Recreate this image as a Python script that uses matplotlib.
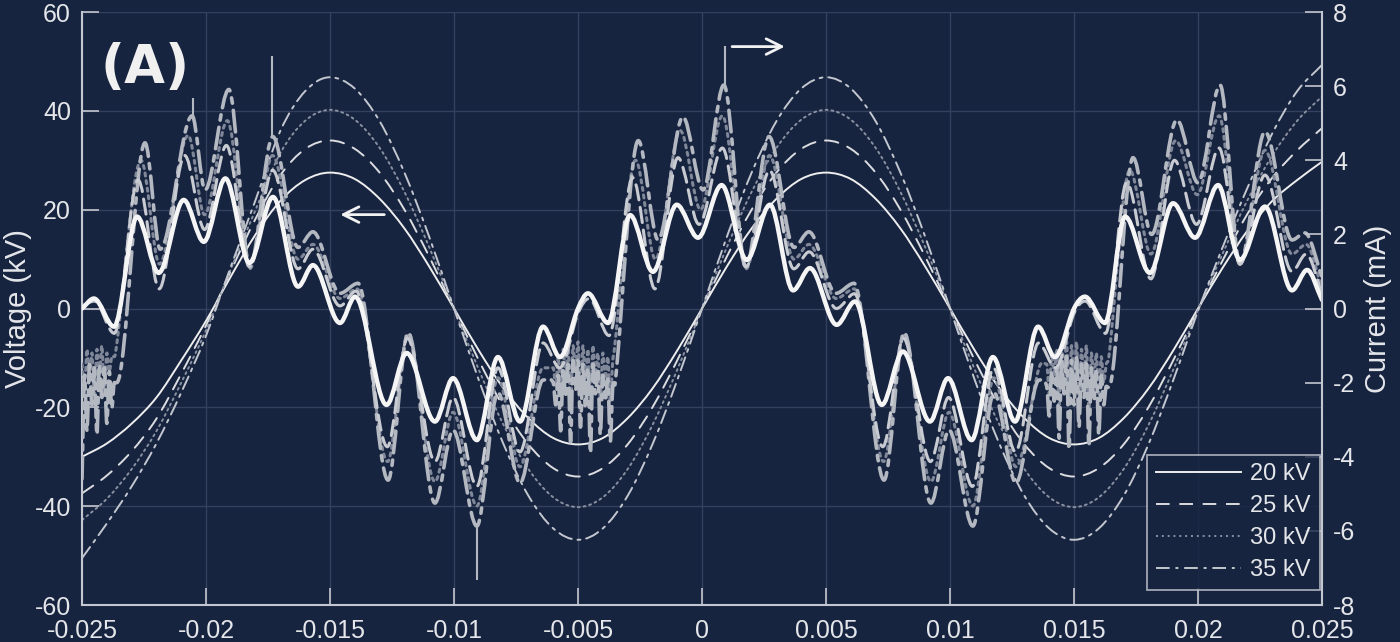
import matplotlib.pyplot as plt
import numpy as np
from matplotlib.path import Path
from matplotlib.patches import PathPatch
from matplotlib.lines import Line2D

# 字体设置
plt.rcParams['font.family'] = ['Liberation Sans', 'DejaVu Sans']

bg = '#172440'      # 背景色
fg = '#e4e6ea'      # 文字颜色
spine_c = '#c3c7cf'
grid_c = '#34405e'

# ---------------- 电压数据 (kV), 每 1 ms 一个点 ----------------
t_v = np.linspace(-0.025, 0.025, 51)
v20 = [-30.0, -27.3, -23.3, -18.0, -10.5, -2.5, 6.5, 15.0, 21.8, 26.0,
       27.5, 26.2, 22.2, 16.2, 8.5, 0.0, -8.5, -16.2, -22.2, -26.2,
       -27.5, -26.2, -22.2, -16.2, -8.5, 0.0, 8.5, 16.2, 22.2, 26.2,
       27.5, 26.2, 22.2, 16.2, 8.5, 0.0, -8.5, -16.2, -22.2, -26.2,
       -27.5, -26.2, -22.2, -16.2, -8.5, 0.0, 8.3, 15.8, 21.8, 26.0, 29.7]
v25 = [-37.4, -33.8, -28.9, -22.3, -13.2, -3.4, 7.6, 18.2, 27.0, 32.3,
       34.0, 32.3, 27.5, 20.0, 10.5, 0.0, -10.5, -20.0, -27.5, -32.3,
       -34.0, -32.3, -27.5, -20.0, -10.5, 0.0, 10.5, 20.0, 27.5, 32.3,
       34.0, 32.3, 27.5, 20.0, 10.5, 0.0, -10.5, -20.0, -27.5, -32.3,
       -34.0, -32.3, -27.5, -20.0, -10.5, -0.2, 9.8, 19.2, 26.5, 32.0, 36.5]
v30 = [-42.8, -38.5, -32.5, -24.8, -15.0, -4.4, 8.0, 20.0, 31.5, 38.0,
       40.2, 38.2, 32.5, 23.6, 12.4, 0.0, -12.4, -23.6, -32.5, -38.2,
       -40.2, -38.2, -32.5, -23.6, -12.4, 0.0, 12.4, 23.6, 32.5, 38.2,
       40.2, 38.2, 32.5, 23.6, 12.4, 0.0, -12.4, -23.6, -32.5, -38.2,
       -40.2, -38.2, -32.5, -23.6, -12.4, -0.3, 11.2, 22.0, 31.0, 38.0, 42.9]
v35 = [-50.5, -43.5, -36.0, -27.3, -17.0, -5.5, 8.5, 22.0, 36.0, 44.0,
       46.8, 44.5, 37.9, 27.5, 14.5, 0.0, -14.5, -27.5, -37.9, -44.5,
       -46.8, -44.5, -37.9, -27.5, -14.5, 0.0, 14.5, 27.5, 37.9, 44.5,
       46.8, 44.5, 37.9, 27.5, 14.5, 0.0, -14.5, -27.5, -37.9, -44.5,
       -46.8, -44.5, -37.9, -27.5, -14.5, -0.5, 12.5, 24.5, 35.5, 44.0, 49.3]

# ---------------- 电流数据 (mA), 读取的极值点 ----------------
# 20 kV
t_i20 = [-0.02500, -0.02452, -0.02371, -0.02278, -0.02191, -0.02090, -0.02009, -0.01922,
         -0.01825, -0.01730, -0.01629, -0.01569, -0.01460, -0.01399, -0.01272, -0.01191,
         -0.01077, -0.01004, -0.00908, -0.00823, -0.00734, -0.00641, -0.00573,
         -0.00500, -0.00460, -0.00379, -0.00290, -0.00198, -0.00102, -0.00016, 0.00079,
         0.00180, 0.00274, 0.00367, 0.00435, 0.00543, 0.00617, 0.00725, 0.00810,
         0.00919, 0.00992, 0.01087, 0.01173, 0.01262, 0.01355, 0.01423,
         0.01500, 0.01544, 0.01625, 0.01706, 0.01806, 0.01899, 0.01988, 0.02081,
         0.02169, 0.02270, 0.02379, 0.02440, 0.02500]
i20 = [0.00, 0.27, -0.49, 2.48, 0.96, 2.93, 1.80, 3.51, 1.23, 3.01, 0.59, 1.17,
       -0.39, 0.32, -2.60, -1.20, -3.05, -1.88, -3.55, -1.31, -3.05, -0.49, -1.31,
       0.00, 0.41, -0.39, 2.52, 0.99, 2.80, 1.91, 3.33, 1.31, 2.80, 0.49, 1.09,
       -0.44, 0.19, -2.60, -1.16, -3.05, -1.88, -3.55, -1.31, -3.05, -0.49, -1.31,
       0.00, 0.32, -0.39, 2.48, 0.96, 2.84, 1.91, 3.33, 1.31, 2.75, 0.49, 1.04, 0.23]

# 25 kV
t_i25 = [-0.02500, -0.02450, -0.02370, -0.02274, -0.02189, -0.02086, -0.02006, -0.01918,
         -0.01824, -0.01731, -0.01629, -0.01569, -0.01460, -0.01395, -0.01269, -0.01188,
         -0.01077, -0.01004, -0.00908, -0.00823, -0.00734, -0.00641, -0.00574,
         -0.00500, -0.00455, -0.00375, -0.00280, -0.00190, -0.00097, -0.00012, 0.00082,
         0.00178, 0.00272, 0.00370, 0.00432, 0.00542, 0.00615, 0.00729, 0.00812,
         0.00921, 0.00994, 0.01090, 0.01175, 0.01264, 0.01357, 0.01425,
         0.01500, 0.01545, 0.01627, 0.01712, 0.01810, 0.01905, 0.01994, 0.02085,
         0.02169, 0.02270, 0.02379, 0.02436, 0.02500]
i25 = [0.07, 0.20, -0.67, 3.47, 0.53, 4.13, 2.13, 4.40, 1.13, 3.73, 1.07, 1.60,
       0.07, 0.47, -3.73, -0.80, -4.13, -2.40, -4.80, -1.60, -3.87, -0.93, -1.60,
       -0.13, 0.27, -0.73, 3.53, 0.53, 4.07, 2.27, 4.33, 1.13, 3.73, 1.07, 1.53,
       0.00, 0.40, -3.73, -0.80, -4.13, -2.40, -4.80, -1.60, -3.87, -0.93, -1.60,
       -0.13, 0.20, -0.67, 3.40, 0.80, 4.00, 2.27, 4.33, 1.20, 3.60, 1.00, 1.47, 0.40]

# 30 kV (含放电噪声段)
b30_0 = [-1.5, -2.2, -1.1, -1.9, -1.2, -2.5, -1.1, -1.8, -1.0, -2.3, -1.2, -1.7, -1.3]
b30_1 = [-1.6, -2.1, -1.3, -2.4, -1.1, -1.8, -1.0, -2.6, -1.0, -1.7, -0.9, -2.3, -1.0,
         -1.9, -1.1, -2.7, -1.0, -1.8, -1.2, -2.4, -1.2, -1.9, -1.3, -2.5, -1.4]
b30_2 = [-1.5, -2.3, -1.2, -1.8, -1.1, -2.6, -1.0, -1.7, -0.9, -2.4, -1.0, -2.0, -0.9,
         -2.5, -1.1, -1.8, -1.0, -2.7, -1.2, -1.9, -1.2, -2.3, -1.3, -2.0, -1.5]
t30_a = [-0.02365, -0.02262, -0.02188, -0.02072, -0.02006, -0.01914, -0.01824, -0.01732,
         -0.01629, -0.01569, -0.01460, -0.01391, -0.01268, -0.01187, -0.01077, -0.01004,
         -0.00908, -0.00823, -0.00734, -0.00641]
i30_a = [-1.20, 4.00, 1.20, 4.67, 2.53, 5.07, 1.07, 4.13, 1.33, 1.73, 0.27, 0.53,
         -4.13, -0.73, -4.67, -2.80, -5.33, -1.87, -4.27, -1.60]
t30_b = [-0.00355, -0.00268, -0.00188, -0.00088, -0.00006, 0.00082, 0.00178, 0.00272,
         0.00371, 0.00431, 0.00541, 0.00614, 0.00732, 0.00813, 0.00923, 0.00996,
         0.01092, 0.01177, 0.01266, 0.01359]
i30_b = [-1.20, 4.00, 1.33, 4.80, 2.67, 5.20, 1.07, 4.13, 1.33, 1.73, 0.27, 0.53,
         -4.13, -0.73, -4.67, -2.80, -5.33, -1.87, -4.27, -1.60]
t30_c = [0.01640, 0.01725, 0.01810, 0.01910, 0.01997, 0.02085, 0.02169, 0.02270,
         0.02379, 0.02436, 0.02500]
i30_c = [-1.33, 3.73, 1.47, 4.53, 3.07, 5.20, 1.20, 4.27, 1.47, 1.73, 0.53]

# 35 kV (含放电噪声段)
b35_0 = [-4.6, -1.8, -3.3, -1.5, -2.6, -1.6, -3.4, -1.5, -2.4, -1.6, -3.1, -1.7, -2.7, -2.0]
b35_1 = [-2.0, -2.6, -1.8, -3.3, -1.6, -2.4, -1.5, -3.6, -1.4, -2.2, -1.4, -3.2, -1.5,
         -2.7, -1.6, -3.9, -1.5, -2.3, -1.7, -3.4, -1.8, -2.5, -1.9, -3.6, -2.1]
b35_2 = [-2.1, -2.9, -1.7, -2.5, -1.6, -3.5, -1.4, -2.3, -1.3, -3.8, -1.4, -2.6, -1.3,
         -3.2, -1.5, -2.4, -1.4, -3.7, -1.6, -2.5, -1.7, -3.4, -1.8, -2.6, -2.1]
t35_a = [-0.02360, -0.02246, -0.02185, -0.02056, -0.02004, -0.01908, -0.01823, -0.01731,
         -0.01629, -0.01569, -0.01460, -0.01387, -0.01266, -0.01185, -0.01077, -0.01004,
         -0.00908, -0.00823, -0.00734, -0.00641]
i35_a = [-2.00, 4.47, 1.60, 5.20, 3.20, 5.91, 1.12, 4.64, 1.65, 2.07, 0.41, 0.68,
         -4.63, -0.65, -5.25, -3.28, -5.87, -2.27, -4.71, -1.93]
t35_b = [-0.00350, -0.00257, -0.00177, -0.00077, 0.00004, 0.00088, 0.00177, 0.00270,
         0.00371, 0.00431, 0.00540, 0.00613, 0.00734, 0.00815, 0.00923, 0.00996,
         0.01092, 0.01177, 0.01266, 0.01359]
i35_b = [-2.00, 4.53, 1.85, 5.17, 3.20, 6.03, 1.12, 4.64, 1.65, 2.07, 0.41, 0.68,
         -4.63, -0.65, -5.25, -3.28, -5.87, -2.27, -4.71, -1.93]
t35_c = [0.01640, 0.01738, 0.01813, 0.01915, 0.02000, 0.02089, 0.02169, 0.02270,
         0.02379, 0.02431, 0.02500]
i35_c = [-2.13, 4.07, 2.00, 5.09, 3.39, 6.03, 1.20, 4.77, 1.85, 2.04, 0.85]

# 35 kV 放电尖峰 (时间, 起点, 顶点)
spike_t = [-0.02052, -0.01733, -0.00906, 0.00091]
spike_base = [5.1, 4.6, -5.8, 6.0]
spike_top = [5.67, 6.80, -7.33, 7.07]

# 拼接噪声段 (每 0.1 ms 一个采样)
t_i30 = np.concatenate([np.linspace(-0.0250, -0.0238, len(b30_0)), t30_a,
                        np.linspace(-0.0060, -0.0036, len(b30_1)), t30_b,
                        np.linspace(0.0139, 0.0163, len(b30_2)), t30_c])
i30 = np.concatenate([b30_0, i30_a, b30_1, i30_b, b30_2, i30_c])
t_i35 = np.concatenate([np.linspace(-0.0250, -0.0237, len(b35_0)), t35_a,
                        np.linspace(-0.0060, -0.0036, len(b35_1)), t35_b,
                        np.linspace(0.0139, 0.0163, len(b35_2)), t35_c])
i35 = np.concatenate([b35_0, i35_a, b35_1, i35_b, b35_2, i35_c])

x_ticks = [-0.025, -0.02, -0.015, -0.01, -0.005, 0, 0.005, 0.01, 0.015, 0.02, 0.025]
x_labels = ['-0.025', '-0.02', '-0.015', '-0.01', '-0.005', '0',
            '0.005', '0.01', '0.015', '0.02', '0.025']
legend_labels = ['20 kV', '25 kV', '30 kV', '35 kV']


def smooth_trace(a, t, y, **kw):
    """用三次贝塞尔曲线连接读取的点 (极值点处切线水平)"""
    t = np.asarray(t, float)
    y = np.asarray(y, float)
    n = len(t)
    m = np.zeros(n)
    for k in range(1, n - 1):
        if (y[k] - y[k - 1]) * (y[k + 1] - y[k]) > 0:
            m[k] = (y[k + 1] - y[k - 1]) / (t[k + 1] - t[k - 1])
    m[0] = (y[1] - y[0]) / (t[1] - t[0])
    m[-1] = (y[-1] - y[-2]) / (t[-1] - t[-2])
    verts = [(t[0], y[0])]
    codes = [Path.MOVETO]
    for k in range(n - 1):
        h = t[k + 1] - t[k]
        verts += [(t[k] + h / 3, y[k] + m[k] * h / 3),
                  (t[k + 1] - h / 3, y[k + 1] - m[k + 1] * h / 3),
                  (t[k + 1], y[k + 1])]
        codes += [Path.CURVE4] * 3
    a.add_patch(PathPatch(Path(verts, codes), fill=False, capstyle='round',
                          joinstyle='round', **kw))


# ---------------- 绘图 ----------------
fig = plt.figure(figsize=(14, 6.42), dpi=100, facecolor=bg)
ax = fig.add_axes([0.0586, 0.0576, 0.8857, 0.9237])
ax.set_facecolor(bg)

# 电压曲线
styles = [('-', '#eeeeee'), ((0, (7, 5)), '#dcdde0'),
          ((0, (1, 2)), '#8a91a1'), ((0, (7, 3, 1.5, 3)), '#c3c7cf')]
volts = [v20, v25, v30, v35]
handles = []
for (ls, c), v, lab in zip(styles, volts, legend_labels):
    smooth_trace(ax, t_v, v, ls=ls, edgecolor=c, lw=1.4)
    handles.append(Line2D([], [], ls=ls, color=c, lw=1.4))

ax.set_xlim(-0.025, 0.025)
ax.set_ylim(-60, 60)
ax.set_xticks(x_ticks)
ax.set_xticklabels(x_labels)
ax.set_yticks(np.arange(-60, 61, 20))
ax.set_yticklabels([str(v) for v in range(-60, 61, 20)])
ax.grid(True, color=grid_c, lw=1.0)
ax.set_axisbelow(True)
ax.set_ylabel('Voltage (kV)', fontsize=21, color=fg, labelpad=2)

# 电流曲线 (右轴)
ax2 = ax.twinx()
ax2.set_ylim(-8, 8)
ax2.set_yticks(np.arange(-8, 9, 2))
ax2.set_yticklabels([str(v) for v in range(-8, 9, 2)])
smooth_trace(ax2, t_i30, i30, ls=(0, (1, 1.5)), edgecolor='#7f8798', lw=2.2)
smooth_trace(ax2, t_i35, i35, ls=(0, (6, 2, 1.5, 2)), edgecolor='#b4b8c1', lw=2.6)
ax2.vlines(spike_t, spike_base, spike_top, color='#b4b8c1', lw=1.5)
smooth_trace(ax2, t_i25, i25, ls=(0, (5, 2.5)), edgecolor='#c8cbd1', lw=2.2)
smooth_trace(ax2, t_i20, i20, ls='-', edgecolor='#f5f5f5', lw=3.2)
ax2.set_ylabel('Current (mA)', fontsize=21, color=fg, labelpad=6)

# 坐标轴样式
for a in (ax, ax2):
    for s in a.spines.values():
        s.set_visible(False)
    a.tick_params(direction='in', length=12, width=1.2, color=spine_c,
                  labelcolor=fg, labelsize=18)
ax.spines['left'].set_visible(True)
ax.spines['bottom'].set_visible(True)
ax2.spines['right'].set_visible(True)
for s in (ax.spines['left'], ax.spines['bottom'], ax2.spines['right']):
    s.set_color(spine_c)
    s.set_linewidth(1.5)
ax.tick_params(axis='x', pad=10)
ax.tick_params(axis='y', pad=8)
ax2.tick_params(axis='y', pad=8)

# 箭头
ax.annotate('', xy=(-0.0147, 19), xytext=(-0.0127, 19),
            arrowprops=dict(arrowstyle='->', color='#f2f2f2', lw=2, mutation_scale=28))
ax.annotate('', xy=(0.00345, 53), xytext=(0.0011, 53),
            arrowprops=dict(arrowstyle='->', color='#f2f2f2', lw=2, mutation_scale=28))

# 面板标记
ax.text(0.051, 0.906, '(A)', transform=ax.transAxes, fontsize=38, fontweight='bold',
        color='#f0f0f0', ha='center', va='center', family='DejaVu Sans')

# 图例
leg = ax2.legend(handles=handles, labels=legend_labels, loc='lower right',
                 bbox_to_anchor=(0.998, 0.025), fontsize=17, handlelength=3.6,
                 labelspacing=0.42, frameon=True, fancybox=False, borderaxespad=0,
                 handletextpad=0.4, borderpad=0.38)
leg.get_frame().set_facecolor(bg)
leg.get_frame().set_edgecolor(spine_c)
leg.get_frame().set_linewidth(1.3)
for txt in leg.get_texts():
    txt.set_color(fg)

fig.savefig('out.png', dpi=100, facecolor=bg)
